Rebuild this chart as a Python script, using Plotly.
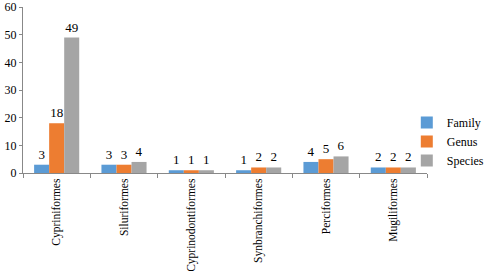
import plotly.graph_objects as go

categories = ["Cypriniformes", "Siluriformes", "Cyprinodontiformes", "Synbranchiformes", "Perciformes", "Mugiliformes"]
family = [3, 3, 1, 1, 4, 2]
genus = [18, 3, 1, 2, 5, 2]
species = [49, 4, 1, 2, 6, 2]

font = "Times New Roman, Liberation Serif, DejaVu Serif, serif"
fig = go.Figure()
for name, vals, col in [("Family", family, "#5B9BD5"), ("Genus", genus, "#ED7D31"), ("Species", species, "#A5A5A5")]:
    fig.add_trace(go.Bar(x=categories, y=vals, name=name, marker_color=col,
                         marker_line_width=0, text=vals, textposition="outside",
                         textfont=dict(family=font, size=13, color="black"), cliponaxis=False))

fig.update_layout(
    width=485, height=271, margin=dict(l=23, r=58, t=7, b=98, autoexpand=False),
    plot_bgcolor="white", paper_bgcolor="white",
    barmode="group", bargap=0.33, bargroupgap=0,
    font=dict(family=font, size=12, color="black"),
    legend=dict(x=0.95, y=0.19, xanchor="left", yanchor="middle", font=dict(family=font, size=12),
                itemwidth=30, tracegroupgap=2, bgcolor="rgba(0,0,0,0)"),
    showlegend=True,
)
fig.update_yaxes(range=[0, 60.05], dtick=10, showgrid=False, showline=True, linecolor="#888",
                 ticks="outside", ticklen=3, tickcolor="#888", zeroline=False, automargin=False,
                 tickfont=dict(family=font, size=12))
fig.update_xaxes(showline=True, linecolor="#888", ticks="outside", ticklen=4, tickcolor="#888",
                 tickson="boundaries", tickangle=-90, automargin=False,
                 tickfont=dict(family=font, size=11.5))
fig.write_html("out.html", config={"displayModeBar": False},
               post_script="document.body.style.margin='0';")
